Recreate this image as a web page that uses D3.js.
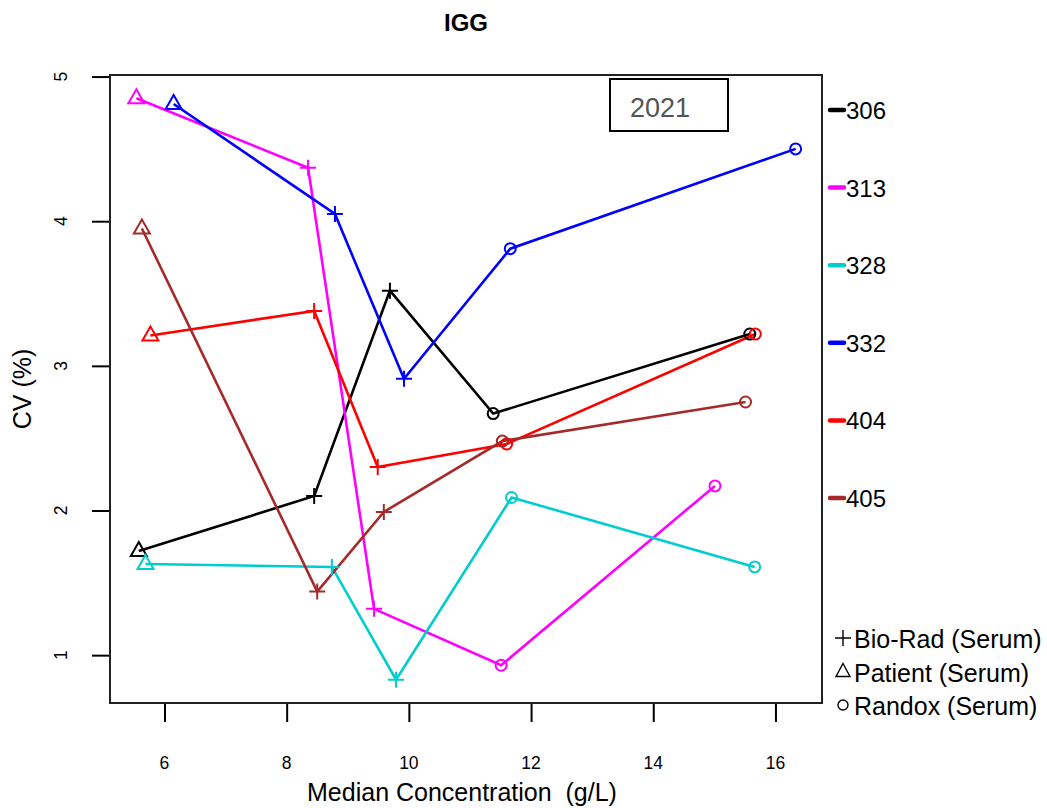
<!DOCTYPE html>
<html>
<head>
  <meta charset="utf-8">
  <title>IGG</title>
  <style>
    body { margin: 0; background: #fff; }
    text { font-family: "Liberation Sans", Arial, sans-serif; fill: #000; }
    .tick-label { font-size: 17.5px; }
  </style>
</head>
<body>
  <svg id="chart" width="1047" height="808"></svg>

  <script src="https://d3js.org/d3.v7.min.js"></script>
  <script>
    // data
    const labs = ["306", "313", "328", "332", "404", "405"];
    const labColors = ["#000000", "#FF00FF", "#00CDCD", "#0000FF", "#FF0000", "#A52A2A"];
    const reagents = ["Bio-Rad (Serum)", "Patient (Serum)", "Randox (Serum)"];
    // reagent of each point, in order of concentration (0 Bio-Rad, 1 Patient, 2 Randox)
    const reagentIdx = [1, 0, 0, 2, 2];

    const conc306 = [5.58, 8.45, 9.69, 11.38, 15.58];
    const cv306 = [1.72, 2.10, 3.52, 2.67, 3.22];
    const conc313 = [5.54, 8.35, 9.43, 11.51, 15.01];
    const cv313 = [4.85, 4.37, 1.32, 0.93, 2.17];
    const conc328 = [5.69, 8.74, 9.79, 11.68, 15.66];
    const cv328 = [1.63, 1.61, 0.83, 2.09, 1.61];
    const conc332 = [6.15, 8.79, 9.92, 11.66, 16.33];
    const cv332 = [4.81, 4.05, 2.91, 3.81, 4.50];
    const conc404 = [5.77, 8.45, 9.49, 11.60, 15.67];
    const cv404 = [3.21, 3.38, 2.30, 2.46, 3.22];
    const conc405 = [5.63, 8.50, 9.59, 11.53, 15.51];
    const cv405 = [3.95, 1.44, 1.99, 2.48, 2.75];

    const xTicks = [6, 8, 10, 12, 14, 16];
    const yTicks = [1, 2, 3, 4, 5];

    const concs = [conc306, conc313, conc328, conc332, conc404, conc405];
    const cvs = [cv306, cv313, cv328, cv332, cv404, cv405];

    const series = labs.map((lab, i) => ({
      lab: lab,
      color: labColors[i],
      points: concs[i].map((c, j) => ({ x: c, y: cvs[i][j], r: reagentIdx[j] }))
    }));

    // layout
    const plot = { left: 110, right: 822, top: 75, bottom: 703 };
    const svg = d3.select("#chart");

    // R style 4% padding
    function pad(ext) {
      const d = (ext[1] - ext[0]) * 0.04;
      return [ext[0] - d, ext[1] + d];
    }
    const allX = concs.flat();
    const allY = cvs.flat();

    const xScale = d3.scaleLinear()
      .domain(pad(d3.extent(allX)))
      .range([plot.left, plot.right]);
    const yScale = d3.scaleLinear()
      .domain(pad(d3.extent(allY)))
      .range([plot.bottom, plot.top]);

    // title
    svg.append("text")
      .attr("x", (plot.left + plot.right) / 2)
      .attr("y", 31)
      .attr("text-anchor", "middle")
      .style("font-size", "24px")
      .style("font-weight", "bold")
      .text("IGG");

    // x axis (ticks from d3, labels drawn separately)
    const xAxis = svg.append("g")
      .attr("transform", `translate(0, ${plot.bottom})`)
      .call(d3.axisBottom(xScale).tickValues(xTicks).tickSize(19).tickFormat(""));
    xAxis.select(".domain").remove();
    xAxis.selectAll("line").attr("stroke", "#000").attr("stroke-width", 2);

    svg.append("g").selectAll("text")
      .data(xTicks)
      .join("text")
      .attr("class", "tick-label")
      .attr("x", d => xScale(d))
      .attr("y", 769)
      .attr("text-anchor", "middle")
      .text(d => d);

    // y axis (labels rotated, as in R)
    const yAxis = svg.append("g")
      .attr("transform", `translate(${plot.left}, 0)`)
      .call(d3.axisLeft(yScale).tickValues(yTicks).tickSize(18).tickFormat(""));
    yAxis.select(".domain").remove();
    yAxis.selectAll("line").attr("stroke", "#000").attr("stroke-width", 2);

    svg.append("g").selectAll("text")
      .data(yTicks)
      .join("text")
      .attr("class", "tick-label")
      .attr("transform", d => `translate(67, ${yScale(d)}) rotate(-90)`)
      .attr("text-anchor", "middle")
      .text(d => d);

    // axis titles
    svg.append("text")
      .attr("x", (plot.left + plot.right) / 2 - 4)
      .attr("y", 801)
      .attr("text-anchor", "middle")
      .style("font-size", "25px")
      .attr("xml:space", "preserve")
      .text("Median Concentration  (g/L)");

    svg.append("text")
      .attr("transform", `translate(31, ${(plot.top + plot.bottom) / 2}) rotate(-90)`)
      .attr("text-anchor", "middle")
      .style("font-size", "25px")
      .text("CV (%)");

    // lines
    const line = d3.line().x(d => xScale(d.x)).y(d => yScale(d.y));
    svg.append("g").selectAll("path")
      .data(series)
      .join("path")
      .attr("d", d => line(d.points))
      .attr("fill", "none")
      .attr("stroke", d => d.color)
      .attr("stroke-width", 2.6);

    // markers
    function circlePath(rad) {
      const p = d3.path();
      p.arc(0, 0, rad, 0, 2 * Math.PI);
      return p.toString();
    }
    function markerPath(r) {
      if (r === 0) return "M-8,0H8M0,-8V8";
      if (r === 1) return "M0,-9L8,5H-8Z";
      return circlePath(5.5);
    }

    const pts = svg.append("g").selectAll("g")
      .data(series)
      .join("g")
      .attr("stroke", d => d.color);
    pts.selectAll("path")
      .data(d => d.points)
      .join("path")
      .attr("transform", d => `translate(${xScale(d.x)}, ${yScale(d.y)})`)
      .attr("d", d => markerPath(d.r))
      .attr("fill", "none")
      .attr("stroke-width", 2);

    // plot box
    svg.append("rect")
      .attr("x", plot.left)
      .attr("y", plot.top)
      .attr("width", plot.right - plot.left)
      .attr("height", plot.bottom - plot.top)
      .attr("fill", "none")
      .attr("stroke", "#222")
      .attr("stroke-width", 2);

    // year box
    svg.append("rect")
      .attr("x", 610).attr("y", 79)
      .attr("width", 118).attr("height", 52)
      .attr("fill", "#fff")
      .attr("stroke", "#000")
      .attr("stroke-width", 2);
    svg.append("text")
      .attr("x", 660).attr("y", 117)
      .attr("text-anchor", "middle")
      .style("font-size", "27px")
      .style("fill", "#555")
      .text("2021");

    // lab legend
    const labLegend = svg.append("g").selectAll("g")
      .data(series)
      .join("g")
      .attr("transform", (d, i) => `translate(828, ${110 + i * 77.6})`);
    labLegend.append("line")
      .attr("x1", 2).attr("x2", 16)
      .attr("stroke", d => d.color)
      .attr("stroke-width", 4.5)
      .attr("stroke-linecap", "round");
    labLegend.append("text")
      .attr("x", 18).attr("y", 9)
      .style("font-size", "24px")
      .text(d => d.lab);

    // reagent legend
    const kitLegend = svg.append("g").selectAll("g")
      .data(reagents)
      .join("g")
      .attr("transform", (d, i) => `translate(843, ${638 + i * 33.5})`);
    kitLegend.append("path")
      .attr("d", (d, i) => i === 0 ? "M-8,0H8M0,-8V8" : i === 1 ? "M0,-8L7,5H-7Z" : circlePath(5))
      .attr("fill", "none")
      .attr("stroke", "#000")
      .attr("stroke-width", 1.4);
    kitLegend.append("text")
      .attr("x", 11).attr("y", 10)
      .style("font-size", "25px")
      .text(d => d);
  </script>
</body>
</html>
